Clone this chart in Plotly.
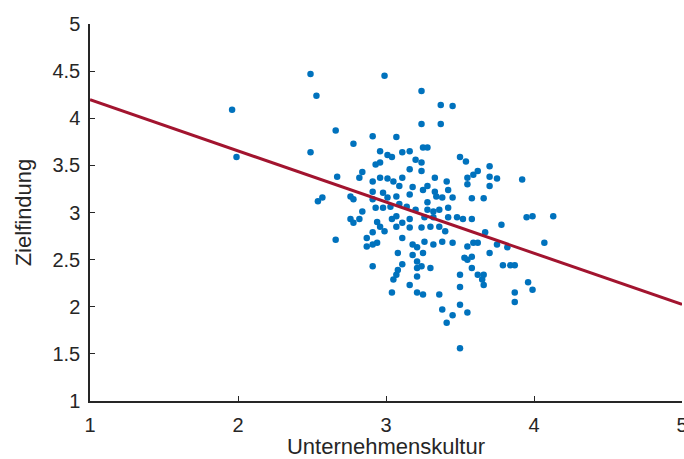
import plotly.graph_objects as go

# Survey scores: company culture (x) vs. goal finding (y)
unternehmenskultur = [
    1.96, 1.99, 2.49, 2.53, 2.99, 3.24, 3.37, 3.45, 3.24, 3.37,
    2.66, 2.78, 2.91, 3.07, 2.49, 3.25, 3.28, 2.96, 3.01, 3.04,
    3.11, 3.16, 3.20, 3.50, 3.54, 3.70, 3.62, 3.59, 3.55, 3.70,
    3.75, 3.92, 2.93, 2.96, 3.16, 3.24, 3.24, 2.67, 2.84, 2.82,
    2.91, 2.96, 3.01, 3.05, 3.11, 3.09, 3.18, 3.16, 2.98, 3.01,
    3.07, 2.91, 2.76, 2.78, 2.57, 2.54, 2.91, 2.93, 2.98, 3.03,
    3.09, 3.14, 3.20, 2.84, 2.76, 2.78, 2.82, 2.94, 3.04, 3.07,
    3.11, 3.16, 2.96, 3.07, 3.33, 3.41, 3.55, 3.70, 3.28, 3.25,
    3.33, 3.42, 3.34, 3.38, 3.45, 3.58, 3.66, 3.28, 3.28, 3.32,
    3.36, 3.42, 3.26, 3.32, 3.42, 3.48, 3.52, 3.58, 3.78, 3.95,
    3.99, 4.13, 2.66, 2.87, 2.91, 2.94, 2.87, 2.91, 2.99, 3.16,
    3.11, 3.18, 3.21, 3.18, 3.08, 3.21, 2.91, 3.11, 3.08, 3.07,
    3.05, 3.16, 3.21, 3.21, 3.04, 3.21, 3.24, 3.30, 3.36, 3.40,
    3.45, 3.38, 3.32, 3.26, 3.25, 3.24, 3.30, 3.55, 3.59, 3.62,
    3.67, 3.75, 3.82, 3.70, 3.53, 3.58, 3.55, 3.58, 3.50, 3.62,
    3.66, 3.65, 3.66, 3.79, 3.84, 3.87, 4.07, 3.50, 3.25, 3.36,
    3.96, 3.99, 3.87, 3.87, 3.50, 3.55, 3.45, 3.41, 3.38, 3.50,
]
zielfindung = [
    4.09, 3.59, 4.47, 4.24, 4.45, 4.29, 4.14, 4.13, 3.94, 3.94,
    3.87, 3.73, 3.81, 3.80, 3.64, 3.69, 3.69, 3.65, 3.61, 3.59,
    3.64, 3.65, 3.56, 3.59, 3.54, 3.49, 3.44, 3.40, 3.37, 3.38,
    3.36, 3.35, 3.51, 3.53, 3.46, 3.53, 3.44, 3.38, 3.43, 3.37,
    3.33, 3.37, 3.36, 3.33, 3.37, 3.28, 3.27, 3.19, 3.21, 3.16,
    3.17, 3.22, 3.17, 3.14, 3.16, 3.12, 3.14, 3.05, 3.05, 3.06,
    3.09, 3.06, 3.03, 3.01, 2.93, 2.89, 2.93, 2.90, 2.93, 2.96,
    2.89, 2.93, 2.85, 2.85, 3.37, 3.33, 3.30, 3.28, 3.28, 3.24,
    3.22, 3.24, 3.17, 3.16, 3.16, 3.15, 3.15, 3.11, 3.03, 3.01,
    3.03, 3.05, 2.95, 2.95, 2.95, 2.95, 2.93, 2.93, 2.87, 2.95,
    2.96, 2.96, 2.71, 2.64, 2.66, 2.68, 2.73, 2.79, 2.80, 2.84,
    2.73, 2.66, 2.63, 2.55, 2.57, 2.48, 2.43, 2.45, 2.39, 2.34,
    2.29, 2.23, 2.41, 2.32, 2.15, 2.15, 2.84, 2.85, 2.85, 2.80,
    2.68, 2.69, 2.66, 2.69, 2.57, 2.43, 2.41, 2.64, 2.68, 2.68,
    2.79, 2.66, 2.63, 2.57, 2.52, 2.53, 2.50, 2.41, 2.34, 2.34,
    2.34, 2.29, 2.23, 2.44, 2.44, 2.44, 2.68, 2.21, 2.13, 2.13,
    2.26, 2.18, 2.15, 2.05, 2.02, 1.94, 1.91, 1.83, 1.97, 1.56,
]

# Linear fit: intercept, slope
fit_coef = [4.74, -0.543]

x_range = [1, 5]
y_range = [1, 5]
x_ticks = [1, 2, 3, 4, 5]
y_ticks = [1, 1.5, 2, 2.5, 3, 3.5, 4, 4.5, 5]
y_tick_text = ["1", "1.5", "2", "2.5", "3", "3.5", "4", "4.5", "5"]

fit_x = x_range
fit_y = [fit_coef[0] + fit_coef[1] * v for v in fit_x]

axis_color = "#262626"
font_family = "Liberation Sans, Arial, sans-serif"

fig = go.Figure()
fig.add_trace(go.Scatter(
    x=unternehmenskultur, y=zielfindung, mode="markers",
    marker=dict(color="#0072BD", size=6.5, line=dict(width=0)),
    showlegend=False, cliponaxis=False,
))
fig.add_trace(go.Scatter(
    x=fit_x, y=fit_y, mode="lines",
    line=dict(color="#A2142F", width=3),
    showlegend=False, cliponaxis=False,
))

axis_common = dict(
    showgrid=False, zeroline=False, showline=True, linecolor=axis_color,
    linewidth=1.5, ticks="inside", ticklen=5, tickcolor=axis_color,
    tickfont=dict(family=font_family, size=20, color=axis_color),
    mirror=False, ticklabeloverflow="allow", automargin=False,
)

fig.update_xaxes(
    range=x_range, tickvals=x_ticks, ticktext=[str(v) for v in x_ticks],
    title=dict(text="Unternehmenskultur", standoff=2,
               font=dict(family=font_family, size=22, color=axis_color)),
    ticklabelstandoff=5,
    **axis_common,
)
fig.update_yaxes(
    range=y_range, tickvals=y_ticks, ticktext=y_tick_text,
    title=dict(text="Zielfindung", standoff=15,
               font=dict(family=font_family, size=22, color=axis_color)),
    ticklabelstandoff=4,
    **axis_common,
)

fig.update_layout(
    width=684, height=459,
    margin=dict(l=90, r=2, t=24, b=58, autoexpand=False),
    paper_bgcolor="white", plot_bgcolor="white",
)

fig.write_html("out.html")
